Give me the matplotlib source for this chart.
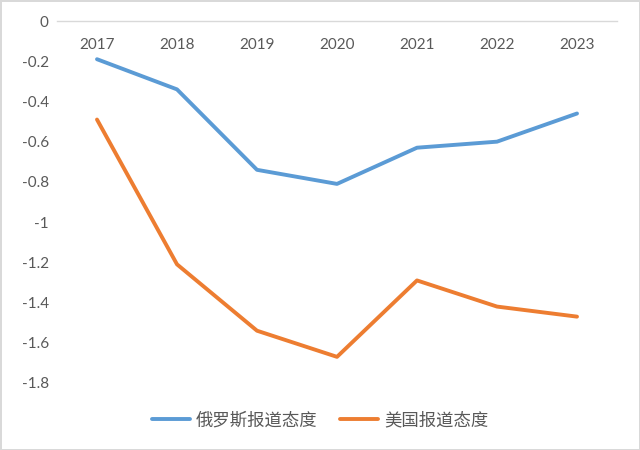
import matplotlib
matplotlib.use('Agg')
from matplotlib import pyplot as plt
from matplotlib.ticker import FuncFormatter
import numpy as np

years = ['2017', '2018', '2019', '2020', '2021', '2022', '2023']
russia = [-0.19, -0.34, -0.74, -0.81, -0.63, -0.60, -0.46]
usa = [-0.49, -1.21, -1.54, -1.67, -1.29, -1.42, -1.47]
series_names = ['俄罗斯报道态度', '美国报道态度']

plt.rcParams['font.family'] = ['Lato', 'Noto Sans CJK SC', 'DejaVu Sans']
text_color = '#595959'

fig = plt.figure(figsize=(6.4, 4.5), dpi=100)
fig.patch.set_edgecolor('#d9d9d9')
fig.patch.set_linewidth(2)
ax = fig.add_axes([57 / 640, 1 - 383 / 450, 560 / 640, 362 / 450])

x = np.arange(len(years))
ax.plot(x, russia, color='#5B9BD5', linewidth=2.8, solid_capstyle='round', label=series_names[0])
ax.plot(x, usa, color='#ED7D31', linewidth=2.8, solid_capstyle='round', label=series_names[1])

ax.set_xlim(-0.5, len(years) - 0.5)
ax.set_ylim(-1.8, 0)
ax.set_yticks(np.arange(-1.8, 0.01, 0.2))
ax.yaxis.set_major_formatter(FuncFormatter(lambda v, p: '%g' % round(v, 1) if abs(v) > 1e-9 else '0'))
ax.set_xticks(x)
ax.set_xticklabels(years)

for s in ['top', 'left', 'right']:
    ax.spines[s].set_visible(False)
ax.spines['bottom'].set_position(('data', 0))
ax.spines['bottom'].set_color('#d9d9d9')
ax.spines['bottom'].set_linewidth(1)

ax.tick_params(axis='x', length=0, pad=12, labelsize=11, labelcolor=text_color)
ax.tick_params(axis='y', length=0, pad=6, labelsize=11, labelcolor=text_color)

leg = fig.legend(loc='center', bbox_to_anchor=(0.5, 1 - 420 / 450), ncol=2, frameon=False,
                 fontsize=12.5, handlelength=2.2, columnspacing=1.3, handletextpad=0.35)
for t in leg.get_texts():
    t.set_color(text_color)

fig.savefig('out.png', dpi=100, edgecolor=fig.get_edgecolor())
